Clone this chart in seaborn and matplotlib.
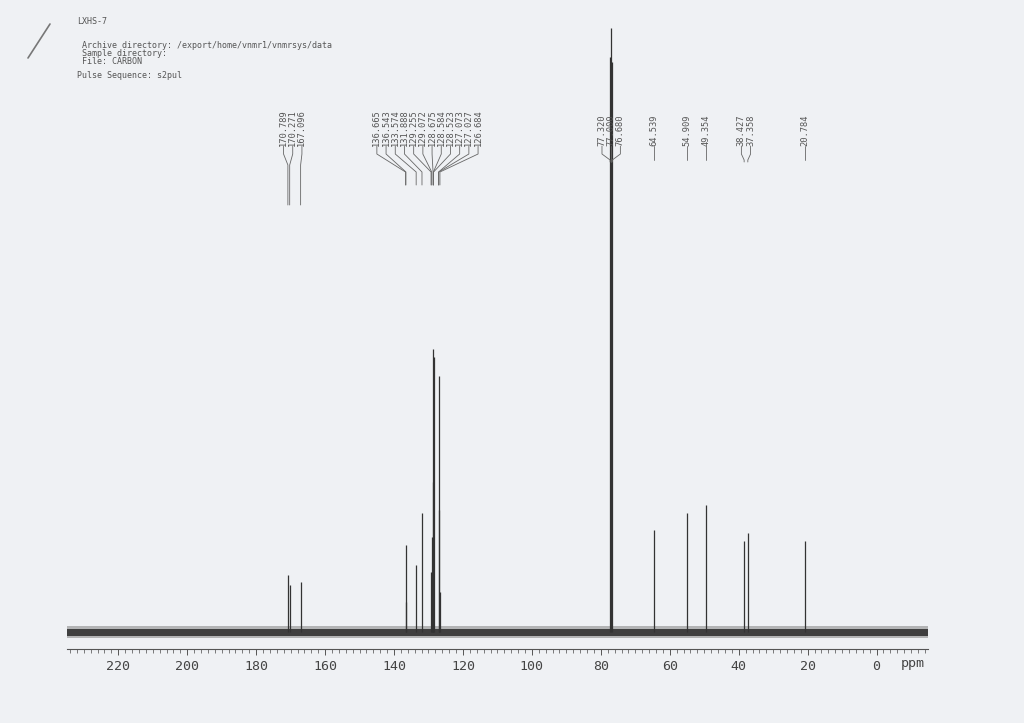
#!/usr/bin/env python3
"""Recreate a scanned 13C NMR printout (LXHS-7) with seaborn/matplotlib."""

import numpy as np
import pandas as pd
import matplotlib
matplotlib.use("Agg")
import matplotlib.pyplot as plt
import seaborn as sns

# --- Data ---
# peak shifts (ppm) and heights above baseline (plot units)
carbonyl_ppm = [170.789, 170.271, 167.096]
carbonyl_int = [57, 47, 50]

aromatic_ppm = [136.665, 136.543, 133.574, 131.888, 129.255, 129.072,
                128.675, 128.584, 128.523, 127.073, 127.027, 126.684]
aromatic_int = [87, 30, 67, 119, 60, 95, 283, 150, 275, 122, 256, 40]

solvent_ppm = [77.320, 77.000, 76.680]
solvent_int = [575, 604, 570]

aliph_ppm = [64.539, 54.909, 49.354, 38.427, 37.358, 20.784]
aliph_int = [102, 119, 127, 91, 99, 91]

tick_ppm = [220, 200, 180, 160, 140, 120, 100, 80, 60, 40, 20, 0]

header_lines = ["LXHS-7",
                " Archive directory: /export/home/vnmr1/vnmrsys/data",
                " Sample directory:",
                " File: CARBON",
                "Pulse Sequence: s2pul"]
header_rows = [22, 45, 53, 61, 76]   # pixel rows on the page

# label groups as printed (indices into the full peak list)
groups = [[0, 1, 2], list(range(3, 15)), [15, 16, 17],
          [18], [19], [20], [21, 22], [23]]

# --- Setup ---
W, H = 1024, 723
PAPER = "#eff1f4"
INK = "#333333"
MONO = "DejaVu Sans Mono"

sns.set_style("white")
plt.rcParams["font.family"] = [MONO, "DejaVu Sans"]

peaks = pd.DataFrame({
    "ppm": carbonyl_ppm + aromatic_ppm + solvent_ppm + aliph_ppm,
    "height": carbonyl_int + aromatic_int + solvent_int + aliph_int,
})

fig = plt.figure(figsize=(W / 100, H / 100), dpi=100, facecolor=PAPER)

# axis line sits at y=649 px, baseline at y=632 px -> 1 data unit = 1 px
x0, x1 = 67, 928
axis_row = 649
ppm0_px, px_per_ppm = 876.6, 3.447
ax = fig.add_axes([x0 / W, (H - axis_row) / H, (x1 - x0) / W, axis_row / H])
ax.set_facecolor("none")
ax.set_xlim((ppm0_px - x0) / px_per_ppm, (ppm0_px - x1) / px_per_ppm)
ax.set_ylim(-17, 632)


def py(y_px):
    """pixel row (from top) -> data y"""
    return 632 - y_px


# baseline noise band
xs = np.array(ax.get_xlim())
ax.fill_between(xs, -6, 6, color="#6a6a6a", alpha=0.45, lw=0)
ax.fill_between(xs, -3.5, 3.5, color="#2b2b2b", alpha=0.85, lw=0)

# peaks as sticks
ax.vlines(peaks["ppm"], 0, peaks["height"], color=INK, lw=0.9)

# axis styling
sns.despine(ax=ax, left=True, top=True, right=True)
ax.spines["bottom"].set_color("#555555")
ax.spines["bottom"].set_linewidth(0.8)
ax.set_yticks([])
ax.set_xticks(tick_ppm)
ax.set_xticklabels([str(t) for t in tick_ppm])
ax.set_xticks(np.arange(-14, 236, 2), minor=True)
ax.tick_params(axis="x", which="both", bottom=True, direction="out")
ax.tick_params(axis="x", which="major", length=4, width=0.7, color="#555555",
               pad=4, labelsize=9.5, labelcolor="#444444")
ax.tick_params(axis="x", which="minor", length=3, width=0.6, color="#666666")
fig.text(913 / W, 1 - 663 / H, "ppm", ha="center", va="center",
         fontsize=9.5, color="#444444")

# peak labels with Varian-style connectors
label_step = 9.2 / px_per_ppm
for g in groups:
    sub = peaks.iloc[g]
    n = len(sub)
    centre = sub["ppm"].mean()
    lab_x = [centre + (n - 1) / 2 * label_step - i * label_step for i in range(n)]
    if n >= 12:
        bend, end = 172, 185
    elif n == 3 and sub["ppm"].iloc[0] > 150:
        bend, end = 165, 205
    else:
        bend, end = 160, 162
    for lx, (_, row) in zip(lab_x, sub.iterrows()):
        ax.text(lx, py(146), f"{row['ppm']:.3f}", rotation=90, ha="center",
                va="bottom", fontsize=6.3, color="#555555")
        if n == 1:
            ax.plot([lx, lx], [py(146), py(160)], color="#666666", lw=0.6)
        else:
            ax.plot([lx, lx, row["ppm"], row["ppm"]],
                    [py(146), py(154), py(bend), py(end)],
                    color="#666666", lw=0.6)

# header block
for row, line in zip(header_rows, header_lines):
    fig.text(77 / W, 1 - row / H, line, ha="left", va="center",
             fontsize=6, color="#555555")

# pen mark top-left of the scan
fig.add_artist(plt.Line2D([28 / W, 50 / W], [1 - 58 / H, 1 - 24 / H],
                          color="#777777", lw=1.2))

fig.savefig("out.png", dpi=100, facecolor=PAPER)
